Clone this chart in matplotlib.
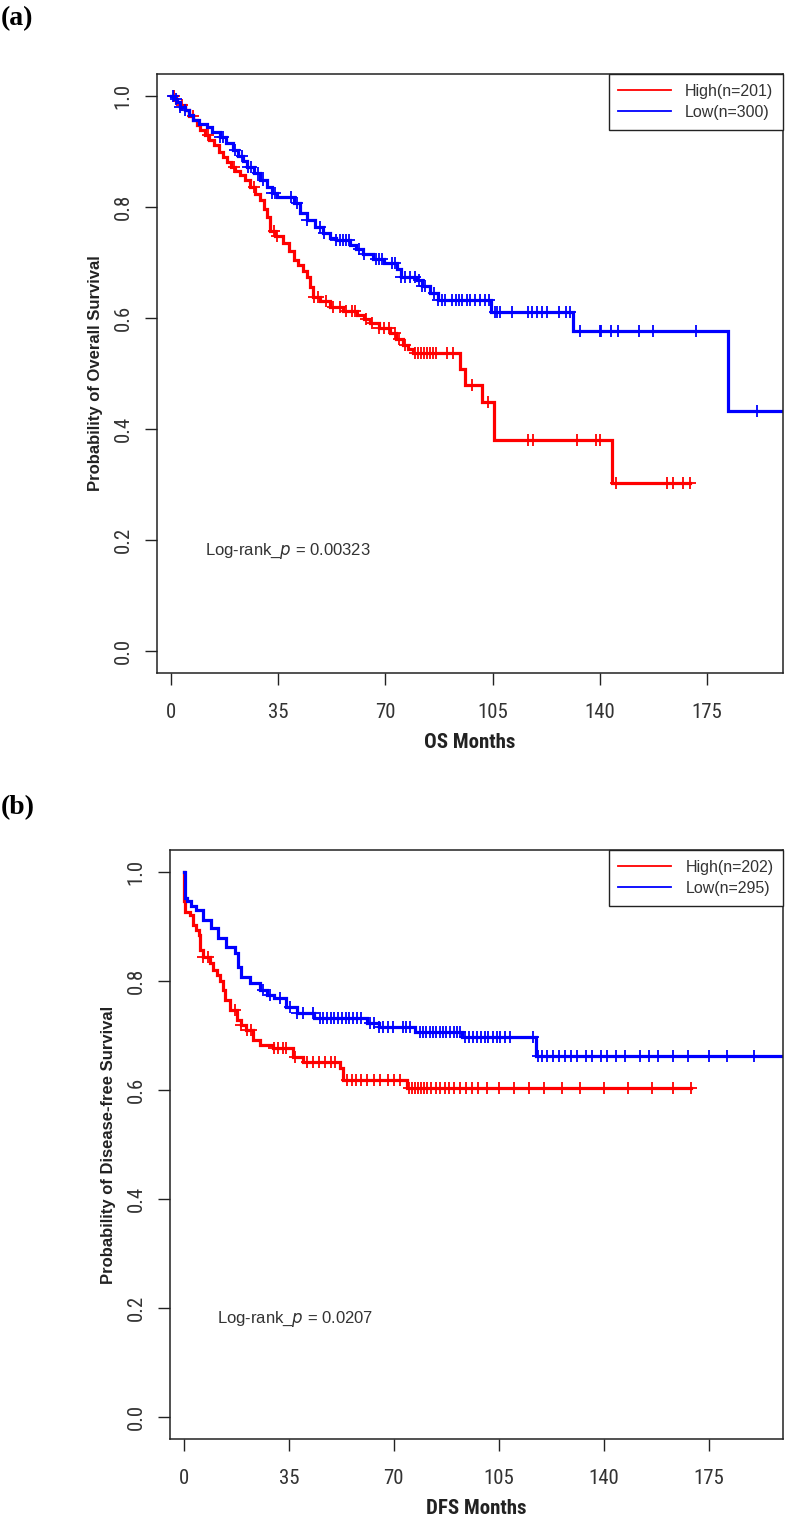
import numpy as np
import matplotlib
matplotlib.use("Agg")
import matplotlib.pyplot as plt
from matplotlib import font_manager as fm
from matplotlib.font_manager import FontProperties

# ---------------- data ----------------
# Panel (a): Overall survival
os_high_t = [0, 1.5, 3, 4.5, 6, 7.3, 8.5, 9.6, 11, 12.5, 14, 15.5, 17, 18.2, 19.5, 21, 22.5, 24,
             25.8, 27.5, 29, 30.2, 31.3, 32.4, 34, 36.7, 38.5, 40, 41.5, 43, 44.4, 45.5, 46.4,
             48.5, 52, 56, 60.8, 63, 65, 68, 71.6, 73.5, 75.8, 77.5, 79, 94.4, 96.1, 101.5,
             105.5, 144, 169.3]
os_high_s = [1.0, 0.99, 0.985, 0.975, 0.965, 0.957, 0.948, 0.939, 0.93, 0.921, 0.912, 0.9, 0.89,
             0.882, 0.873, 0.866, 0.858, 0.849, 0.836, 0.824, 0.812, 0.797, 0.782, 0.757, 0.748,
             0.735, 0.72, 0.705, 0.695, 0.685, 0.674, 0.656, 0.638, 0.63, 0.62, 0.612, 0.605,
             0.598, 0.591, 0.582, 0.573, 0.562, 0.551, 0.545, 0.537, 0.509, 0.479, 0.448, 0.380,
             0.302, 0.302]
os_high_cens = [1.0, 3.5, 7.0, 12, 20.5, 27, 33.5, 34.5, 46.8, 48, 50.5, 53, 55, 57, 59, 60, 63.5,
                65.5, 68, 69.5, 71, 73, 74.5, 76.5, 79.5, 80.5, 81.5, 82.5, 83.5, 84.5, 85.5,
                86.5, 90, 92, 98.3, 103.6, 116.7, 118.3, 132.4, 138.9, 139.9, 145.4, 162, 164,
                167.3, 169.3]

os_low_t = [0, 1, 2, 3, 4.5, 6, 7.3, 9, 11.7, 13.5, 16, 18, 20.3, 22, 23.5, 24.8, 27, 29, 31.3,
            33, 34.6, 40, 42, 44.3, 47, 49.7, 52, 54, 58.5, 60.5, 62.8, 66, 69.4, 73.8, 75, 80.3,
            82, 84.6, 87, 104.5, 131.2, 182, 199.5]
os_low_s = [1.0, 0.995, 0.99, 0.981, 0.975, 0.966, 0.957, 0.95, 0.944, 0.935, 0.926, 0.915, 0.903,
            0.893, 0.883, 0.873, 0.862, 0.849, 0.837, 0.826, 0.818, 0.807, 0.79, 0.777, 0.765,
            0.753, 0.745, 0.74, 0.732, 0.724, 0.716, 0.707, 0.699, 0.688, 0.674, 0.668, 0.657,
            0.645, 0.632, 0.611, 0.577, 0.432, 0.432]
os_low_cens = [0.5, 1.5, 3, 4.5, 16, 17, 21, 23, 25, 26, 28.5, 30, 33, 34, 39, 41, 44.5, 48.5, 50,
               54, 55, 56, 57, 58, 61.5, 63, 67, 68, 69, 72, 73, 75, 76.5, 78, 79.5, 81, 82, 83,
               86, 87, 88.5, 89.5, 91.7, 93, 94, 95, 96.5, 97.5, 99.3, 101, 102.6, 103.7, 105.8,
               106.5, 107.5, 111.3, 116.7, 118, 119.5, 121, 122.7, 126.5, 129, 130.4, 133.6, 140,
               140.5, 143.6, 145.8, 152.7, 157.4, 171.5, 191.4]

# Panel (b): Disease-free survival
dfs_high_t = [0, 0.2, 0.5, 2, 3, 4, 5, 5.5, 6.4, 8.7, 9.8, 11, 12, 13, 13.7, 15.3, 17.6, 19, 20.9,
              23, 25.3, 29.7, 36.4, 39.7, 52, 53, 74.3, 169]
dfs_high_s = [1.0, 0.946, 0.927, 0.921, 0.903, 0.893, 0.884, 0.857, 0.844, 0.833, 0.82, 0.81, 0.80,
              0.783, 0.765, 0.747, 0.728, 0.719, 0.71, 0.692, 0.683, 0.677, 0.661, 0.652, 0.640,
              0.618, 0.603, 0.603]
dfs_high_cens = [6.5, 8, 17, 19, 21, 22.5, 30, 31.5, 33, 34, 37, 41, 43, 45, 47, 49, 50.5, 54.5, 56,
                 57.5, 59, 61, 63.5, 65.5, 68, 70, 72, 75, 76, 77, 78, 79, 80, 81, 82.5, 84, 85.5,
                 87, 88.5, 90, 92, 94, 96, 98, 101, 105, 110, 115, 120, 126, 132, 140, 148, 156,
                 163, 169]

dfs_low_t = [0, 0.3, 1, 2.5, 4.2, 6.4, 9.2, 11.4, 14.2, 17, 18, 19.2, 22, 25.3, 27.7, 30, 34.2,
             37.6, 43.5, 61, 65, 77, 92.6, 117.6, 199.7]
dfs_low_s = [1.0, 0.952, 0.946, 0.938, 0.930, 0.912, 0.897, 0.879, 0.863, 0.851, 0.826, 0.808,
             0.796, 0.783, 0.774, 0.769, 0.753, 0.741, 0.732, 0.723, 0.716, 0.707, 0.697, 0.663,
             0.663]
dfs_low_cens = [26.4, 28.7, 32, 35.3, 37.6, 39.8, 43.1, 45.3, 46.5, 47.7, 49, 50.2, 51.4, 52.6, 54,
                55.2, 56.4, 57.6, 59, 62, 63.5, 65, 66.5, 68, 69.8, 73, 74.2, 75.4, 78.7, 79.8, 80.9,
                82, 83, 84.2, 85.3, 86.4, 87.5, 88.7, 90, 91, 92, 93.7, 95, 96.3, 97.6, 99, 100.3,
                101.6, 103, 104.3, 105.6, 107, 108.7, 116.5, 118, 119.5, 121, 123, 125, 127, 129,
                131, 134, 136, 139, 141, 144, 147, 152, 155, 158, 163, 168, 175, 181, 190]

x_ticks = [0, 35, 70, 105, 140, 175]
y_ticks = [0.0, 0.2, 0.4, 0.6, 0.8, 1.0]

panels = [
    dict(tag="(a)", hi=(os_high_t, os_high_s, os_high_cens), lo=(os_low_t, os_low_s, os_low_cens),
         n_hi=201, n_lo=300, xlabel="OS Months", ylabel="Probability of Overall Survival",
         ptext="0.00323", rect=(157, 74, 783, 673), tagy=19, txt_x=11),
    dict(tag="(b)", hi=(dfs_high_t, dfs_high_s, dfs_high_cens), lo=(dfs_low_t, dfs_low_s, dfs_low_cens),
         n_hi=202, n_lo=295, xlabel="DFS Months", ylabel="Probability of Disease-free Survival",
         ptext="0.0207", rect=(170, 850, 783, 1439), tagy=808, txt_x=11),
]

# ---------------- fonts ----------------
avail = {f.name for f in fm.fontManager.ttflist}
sans = "Liberation Sans"
serif = "Liberation Serif"
narrow_fp = None
for cand in ["Liberation Sans Narrow", "Arial Narrow", "Roboto Condensed", "Open Sans Condensed",
             "Noto Sans Condensed", "DejaVu Sans Condensed"]:
    if cand in avail:
        narrow_fp = dict(family=cand)
        break
if narrow_fp is None:
    try:
        f = fm.findfont(FontProperties(family="DejaVu Sans", stretch="condensed"),
                        fallback_to_default=False)
        if "ondensed" in f:
            narrow_fp = dict(fname=f)
    except Exception:
        narrow_fp = None
if narrow_fp is None:
    narrow_fp = dict(family=sans)


def nprop(size, bold=False):
    if "fname" in narrow_fp:
        fname = narrow_fp["fname"]
        if bold:
            bf = fname.replace("Condensed.ttf", "Condensed-Bold.ttf")
            import os
            if os.path.exists(bf):
                fname = bf
        return FontProperties(fname=fname, size=size)
    return FontProperties(family=narrow_fp["family"], size=size,
                          weight="bold" if bold else "normal")


W, H = 787, 1517
fig = plt.figure(figsize=(W / 100, H / 100), dpi=100)

RED = "#ff0000"
BLUE = "#0000ff"
INK = "#222222"


def surv_at(t, s, x):
    t = np.asarray(t); s = np.asarray(s)
    idx = np.searchsorted(t, x, side="right") - 1
    return s[np.clip(idx, 0, len(s) - 1)]


for p in panels:
    l, t, r, b = p["rect"]
    ax = fig.add_axes([l / W, 1 - b / H, (r - l) / W, (b - t) / H])
    ax.set_xlim(-4.6, 199.8)
    ax.set_ylim(-0.04, 1.04)

    for (tt, ss, cc), col in ((p["hi"], RED), (p["lo"], BLUE)):
        ax.step(tt, ss, where="post", color=col, lw=2.3, solid_joinstyle="miter")
        ax.plot(cc, surv_at(tt, ss, cc), ls="none", marker="+", ms=9, mew=1.3, color=col)

    ax.set_xticks(x_ticks)
    ax.set_xticklabels([str(v) for v in x_ticks], fontproperties=nprop(15), color="#333333")
    ax.set_yticks(y_ticks)
    ax.set_yticklabels(["%.1f" % v for v in y_ticks], fontproperties=nprop(15),
                       rotation=90, va="center", color="#333333")
    ax.tick_params(axis="both", direction="out", length=8.5, width=1.0, color=INK)
    ax.tick_params(axis="x", pad=13)
    ax.tick_params(axis="y", pad=9)
    for sp in ax.spines.values():
        sp.set_linewidth(1.1)
        sp.set_color(INK)

    ax.set_xlabel(p["xlabel"], fontproperties=nprop(15, bold=True), color=INK, labelpad=8)
    ax.set_ylabel(p["ylabel"], fontfamily=sans, fontweight="bold", fontsize=12, color=INK,
                  labelpad=8)

    ax.text(p["txt_x"], 0.18, r"Log-rank_$\it{p}$ = " + p["ptext"], fontfamily=sans, fontsize=12,
            color="#333333", va="center", ha="left")

    leg = ax.legend([plt.Line2D([], [], color=RED, lw=1.3), plt.Line2D([], [], color=BLUE, lw=1.3)],
                    ["High(n=%d)" % p["n_hi"], "Low(n=%d)" % p["n_lo"]],
                    loc="upper right", borderaxespad=0, fancybox=False, framealpha=1,
                    edgecolor=INK, prop=dict(family=sans, size=11.5), handlelength=3.3,
                    handletextpad=0.9, borderpad=0.6, labelspacing=0.4)
    leg.get_frame().set_linewidth(1.0)
    for txt in leg.get_texts():
        txt.set_color("#333333")

    fig.text(1 / W, 1 - p["tagy"] / H, p["tag"], fontfamily=serif, fontweight="bold", fontsize=20,
             va="center", ha="left")

fig.savefig("out.png", dpi=100)
